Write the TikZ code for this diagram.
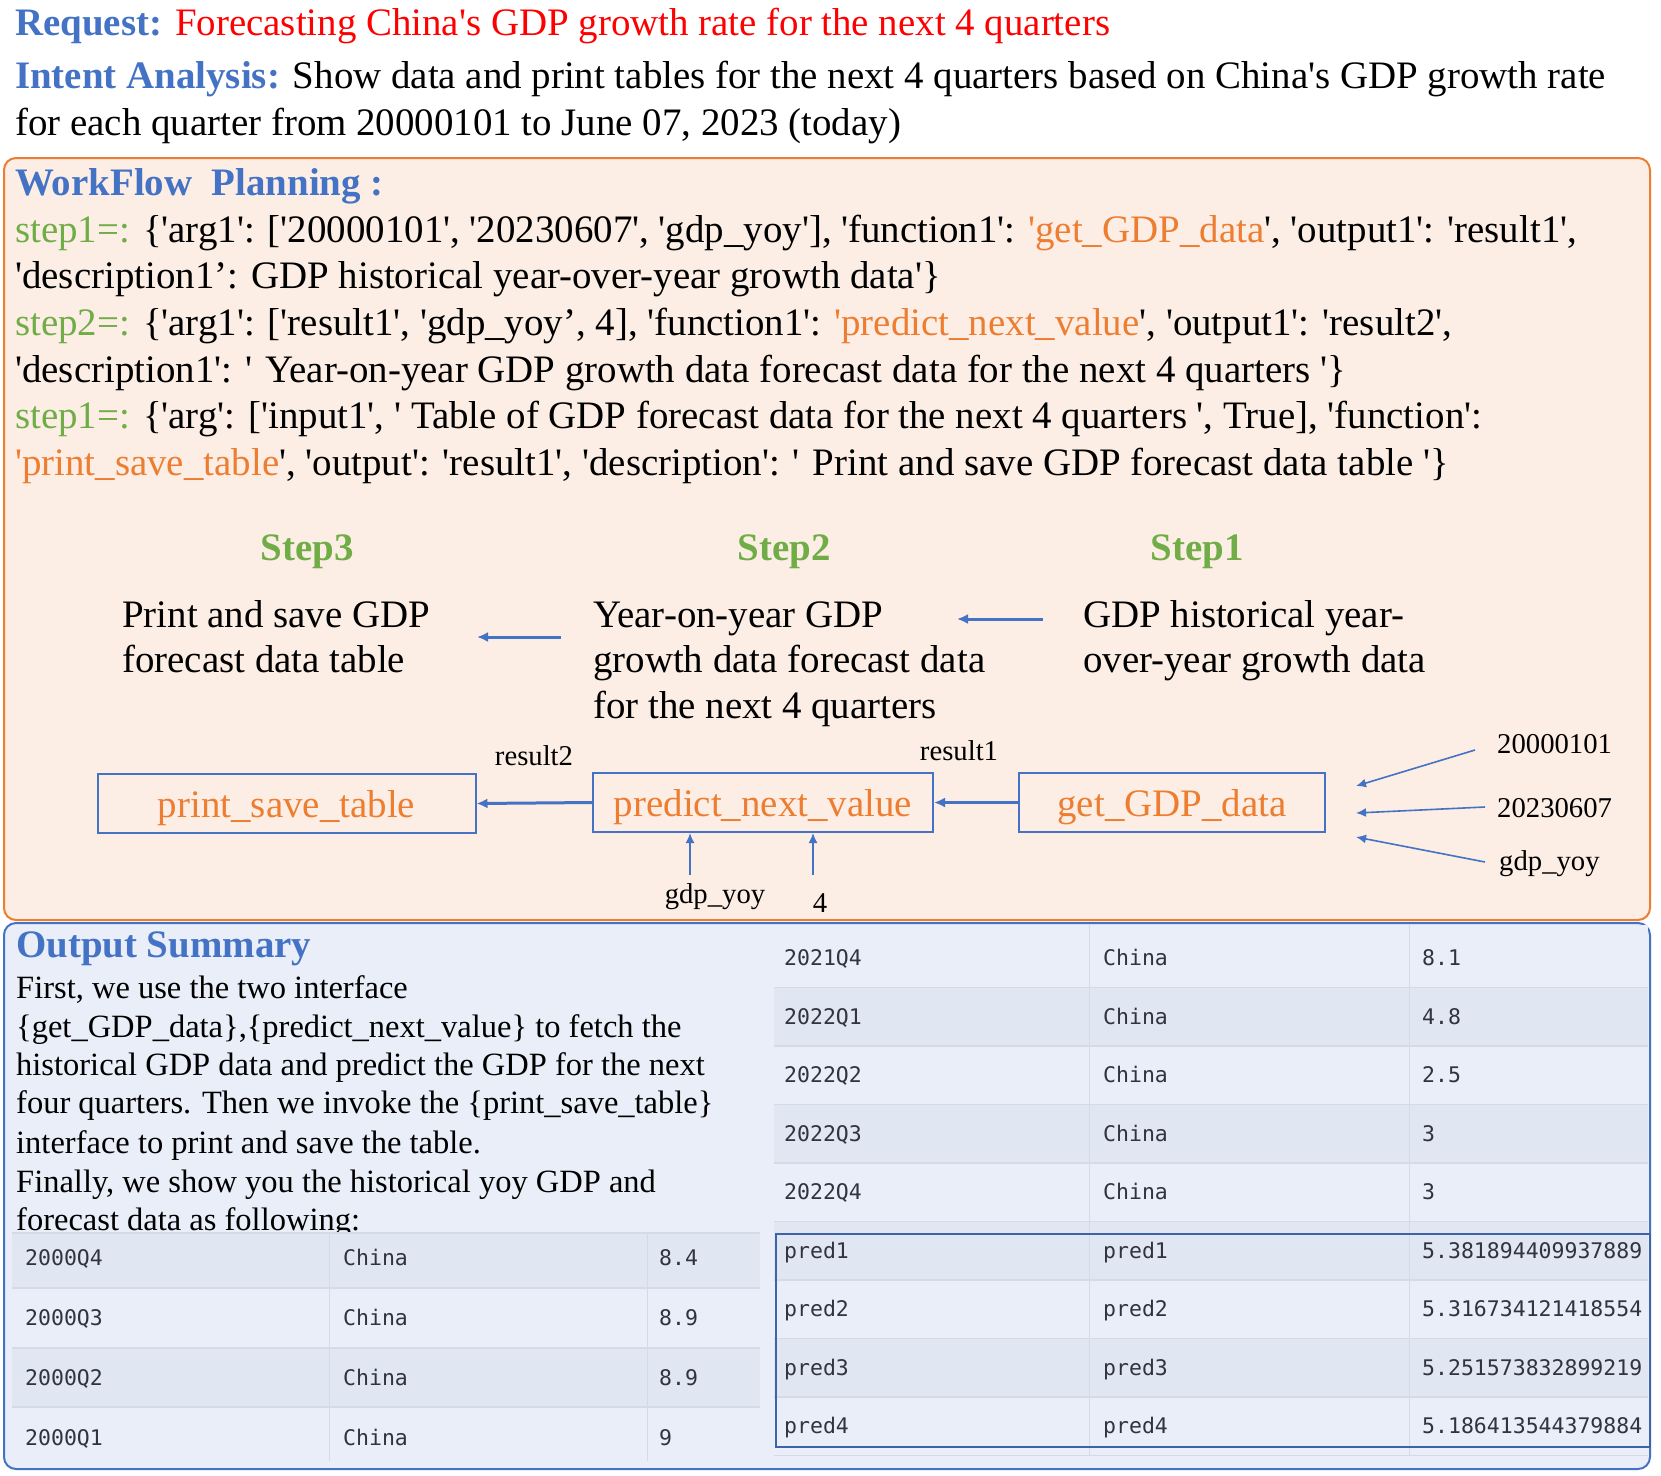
\documentclass[tikz,border=0pt]{standalone}
\usepackage{fontspec}
\setmainfont[Ligatures=TeXOff]{Liberation Serif}
\newfontfamily\monof{DejaVu Sans Mono}
\usetikzlibrary{arrows.meta}
\definecolor{hblue}{HTML}{4472C4}
\definecolor{peach}{HTML}{FCEEE5}
\definecolor{orangeb}{HTML}{ED7D31}
\definecolor{forange}{HTML}{ED7D31}
\definecolor{sgreen}{HTML}{70AD47}
\definecolor{lblue}{HTML}{E9EEF8}
\definecolor{rowdark}{HTML}{E1E7F2}
\definecolor{gridc}{HTML}{D4DBE6}
\definecolor{tabtxt}{HTML}{30343F}
\definecolor{hlbox}{HTML}{3D63A8}
\newcommand\bigf{\fontsize{38.9}{46}\selectfont}
\newcommand\midf{\fontsize{28.7}{34}\selectfont}
\newcommand\sumf{\fontsize{32.5}{38.7}\selectfont}
\newcommand\tabf{\monof\fontsize{21.5}{26}\selectfont}
\begin{document}
\begin{tikzpicture}[x=1pt,y=-1pt,
  txt/.style={anchor=base west,inner sep=0pt,font=\bigf},
  stxt/.style={anchor=base west,inner sep=0pt,font=\sumf},
  stephead/.style={anchor=base,inner sep=0pt,font=\bigf\bfseries,text=sgreen},
  fbox/.style={draw=hblue,line width=2pt,text=forange,font=\bigf,minimum height=59pt,inner sep=0pt,text height=27pt,text depth=0pt},
  arr/.style={-{Latex[length=11pt,width=10pt]},draw=hblue,line width=3pt},
  thinarr/.style={-{Latex[length=10pt,width=9pt]},draw=hblue,line width=1.6pt},
  lbl/.style={inner sep=0pt,font=\midf,anchor=base},
  lblw/.style={inner sep=0pt,font=\midf,anchor=base west},
  cell/.style={anchor=base west,inner sep=0pt,font=\tabf,text=tabtxt},
  grid/.style={draw=gridc,line width=1.3pt}]
\useasboundingbox (0,0) rectangle (1661,1475);
\fill[white] (0,0) rectangle (1661,1475);

% header
\node[txt] (req) at (15,35) {\textbf{\color{hblue}Request:} \color{red}Forecasting China's GDP growth rate for the next 4 quarters};
\node[txt] (int1) at (15,88) {\textbf{\color{hblue}Intent Analysis:} Show data and print tables for the next 4 quarters based on China's GDP growth rate};
\node[txt] (int2) at (15,135) {for each quarter from 20000101 to June 07, 2023 (today)};

% workflow box
\draw[rounded corners=12pt,draw=orangeb,fill=peach,line width=2pt] (4,158) rectangle (1650,920);
\node[txt,font=\bigf\bfseries,text=hblue] (wf) at (15,195) {WorkFlow\ \ Planning :};
\node[txt] (p1) at (15,242) {\textcolor{sgreen}{step1=:} \{'arg1': ['20000101', '20230607', 'gdp\_yoy'], 'function1': \textcolor{forange}{'get\_GDP\_data}', 'output1': 'result1',};
\node[txt] (p2) at (15,288) {'description1’: GDP historical year-over-year growth data'\}};
\node[txt] (p3) at (15,335) {\textcolor{sgreen}{step2=:} \{'arg1': ['result1', 'gdp\_yoy’, 4], 'function1': \textcolor{forange}{'predict\_next\_value}', 'output1': 'result2',};
\node[txt] (p4) at (15,382) {'description1': ' Year-on-year GDP growth data forecast data for the next 4 quarters '\}};
\node[txt] (p5) at (15,428) {\textcolor{sgreen}{step1=:} \{'arg': ['input1', ' Table of GDP forecast data for the next 4 quarters ', True], 'function':};
\node[txt] (p6) at (15,475) {\textcolor{forange}{'print\_save\_table}', 'output': 'result1', 'description': ' Print and save GDP forecast data table '\}};

% step headers
\node[stephead] (h3) at (307,560) {Step3};
\node[stephead] (h2) at (784,560) {Step2};
\node[stephead] (h1) at (1197,560) {Step1};

% descriptions
\node[txt] (d3a) at (122,627) {Print and save GDP};
\node[txt] (d3b) at (122,672) {forecast data table};
\node[txt] (d2a) at (593,627) {Year-on-year GDP};
\node[txt] (d2b) at (593,672) {growth data forecast data};
\node[txt] (d2c) at (593,718) {for the next 4 quarters};
\node[txt] (d1a) at (1083,627) {GDP historical year-};
\node[txt] (d1b) at (1083,672) {over-year growth data};

\coordinate (a1s) at (1043,619);
\coordinate (a1e) at (957,619);
\coordinate (a2s) at (561,637);
\coordinate (a2e) at (477,637);
\draw[arr] (a1s) -- (a1e);
\draw[arr] (a2s) -- (a2e);

% function boxes
\node[fbox,minimum width=378pt] (pst) at (286.5,803.5) {print\_save\_table};
\node[fbox,minimum width=340pt] (pnv) at (763,802.5) {predict\_next\_value};
\node[fbox,minimum width=306pt] (ggd) at (1172,802.5) {get\_GDP\_data};

\draw[arr] (ggd.west) -- (pnv.east);
\draw[arr] (pnv.west) -- (pst.east);
\node[lbl] (r2) at (534,765) {result2};
\node[lbl] (r1) at (959,760) {result1};

% inputs to get_GDP_data
\node[lblw] (i1) at (1497,753) {20000101};
\node[lblw] (i2) at (1497,817) {20230607};
\node[lblw] (i3) at (1499,870) {gdp\_yoy};
\coordinate (i1s) at (1475,750);
\coordinate (i1e) at (1356,786);
\coordinate (i2s) at (1485,807);
\coordinate (i2e) at (1356,813);
\coordinate (i3s) at (1485,862);
\coordinate (i3e) at (1356,837);
\draw[thinarr] (i1s) -- (i1e);
\draw[thinarr] (i2s) -- (i2e);
\draw[thinarr] (i3s) -- (i3e);

% inputs to predict_next_value
\node[lbl] (g1) at (715,903) {gdp\_yoy};
\node[lbl] (g2) at (820,912) {4};
\coordinate (g1s) at (690,875);
\coordinate (g2s) at (813,875);
\draw[thinarr] (g1s) -- (g1s |- pnv.south);
\draw[thinarr] (g2s) -- (g2s |- pnv.south);

% output summary box
\draw[rounded corners=12pt,draw=hblue,fill=lblue,line width=2pt] (4,923) rectangle (1650,1469);
\node[txt,font=\bigf\bfseries,text=hblue] (os) at (16,957) {Output Summary};
\node[stxt] (s1) at (16,998) {First, we use the two interface};
\node[stxt] (s2) at (16,1037) {\{get\_GDP\_data\},\{predict\_next\_value\} to fetch the};
\node[stxt] (s3) at (16,1075) {historical GDP data and predict the GDP for the next};
\node[stxt] (s4) at (16,1113) {four quarters. Then we invoke the \{print\_save\_table\}};
\node[stxt] (s5) at (16,1153) {interface to print and save the table.};
\node[stxt] (s6) at (16,1192) {Finally, we show you the historical yoy GDP and};
\node[stxt] (s7) at (16,1230) {forecast data as following:};

% left table
\fill[lblue] (12,1233) rectangle (760,1461);
\fill[rowdark] (12,1233) rectangle (760,1288);
\fill[rowdark] (12,1348) rectangle (760,1407);
\foreach \yy in {1233,1288,1348,1407} \draw[grid] (12,\yy) -- (760,\yy);
\foreach \xx in {329,647} \draw[grid,line width=1pt] (\xx,1233) -- (\xx,1461);
\foreach \a/\b/\c [count=\i from 0] in {2000Q4/China/8.4,2000Q3/China/8.9,2000Q2/China/8.9,2000Q1/China/9}{
  \pgfmathsetmacro\yb{1265.5+60*\i}
  \node[cell] (la\i) at (25,\yb) {\a};
  \node[cell] (lb\i) at (343,\yb) {\b};
  \node[cell] (lc\i) at (659,\yb) {\c};
}

% right table
\fill[lblue] (774,925) rectangle (1648,1455.5);
\foreach \tt in {987.5,1104.5,1221.5,1338.5} \fill[rowdark] (774,\tt) rectangle (1648,\tt+58.5);
\foreach \yy in {987.5,1046,1104.5,1163,1221.5,1280,1338.5,1397,1455.5} \draw[grid] (774,\yy) -- (1648,\yy);
\foreach \xx in {1089,1409} \draw[grid,line width=1pt] (\xx,925) -- (\xx,1455.5);
\foreach \a/\b/\c [count=\i from 0] in {2021Q4/China/8.1,2022Q1/China/4.8,2022Q2/China/2.5,2022Q3/China/3,2022Q4/China/3,pred1/pred1/5.381894409937889,pred2/pred2/5.316734121418554,pred3/pred3/5.251573832899219,pred4/pred4/5.186413544379884}{
  \pgfmathsetmacro\yb{965.5+58.5*\i}
  \node[cell] (ra\i) at (784,\yb) {\a};
  \node[cell] (rb\i) at (1103,\yb) {\b};
  \node[cell] (rc\i) at (1422,\yb) {\c};
}
\draw[draw=hlbox,line width=2pt] (776,1234) rectangle (1650,1447);
\end{tikzpicture}
\end{document}
